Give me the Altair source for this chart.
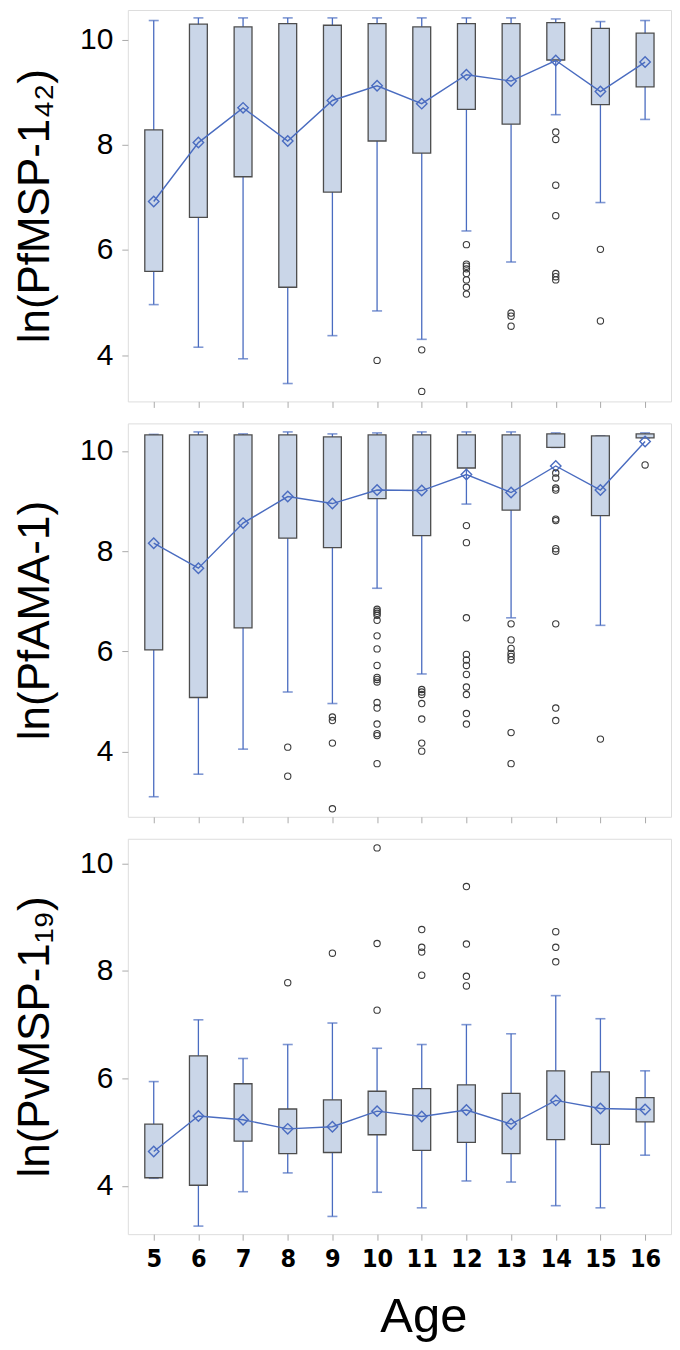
import altair as alt
import pandas as pd

ages = [5, 6, 7, 8, 9, 10, 11, 12, 13, 14, 15, 16]

# Panel 1: ln(PfMSP-1 42)
p1_low = [4.96, 4.15, 3.93, 3.46, 4.37, 4.84, 4.30, 6.36, 5.77, 8.57, 6.90, 8.48]
p1_q1 = [5.59, 6.62, 7.39, 5.29, 7.10, 8.07, 7.84, 8.67, 8.39, 9.61, 8.76, 9.10]
p1_q3 = [8.28, 10.29, 10.24, 10.30, 10.27, 10.30, 10.24, 10.30, 10.30, 10.32, 10.21, 10.12]
p1_high = [10.36, 10.41, 10.41, 10.41, 10.41, 10.41, 10.41, 10.41, 10.41, 10.39, 10.34, 10.36]
p1_mean = [6.92, 8.04, 8.70, 8.07, 8.84, 9.12, 8.78, 9.33, 9.21, 9.60, 9.01, 9.57]
p1_out_age = [10, 11, 11, 12, 12, 12, 12, 12, 12, 12, 12, 13, 13, 13,
              14, 14, 14, 14, 14, 14, 14, 15, 15]
p1_out_val = [3.90, 4.10, 3.31, 6.10, 5.73, 5.69, 5.64, 5.55, 5.43, 5.29, 5.16, 4.80, 4.74, 4.55,
              8.24, 8.10, 7.23, 6.65, 5.55, 5.49, 5.43, 6.01, 4.65]

# Panel 2: ln(PfAMA-1)
p2_low = [3.10, 3.55, 4.05, 5.19, 4.96, 7.26, 5.55, 8.94, 6.67, 10.07, 6.52, 10.26]
p2_q1 = [6.03, 5.08, 6.47, 8.26, 8.07, 9.05, 8.31, 9.66, 8.82, 10.07, 8.71, 10.26]
p2_q3 = [10.32, 10.32, 10.32, 10.32, 10.28, 10.32, 10.32, 10.32, 10.32, 10.34, 10.30, 10.34]
p2_high = [10.33, 10.38, 10.34, 10.38, 10.34, 10.36, 10.38, 10.38, 10.38, 10.36, 10.30, 10.36]
p2_mean = [8.16, 7.66, 8.56, 9.09, 8.95, 9.22, 9.21, 9.53, 9.17, 9.70, 9.22, 10.19]
p2_out_age = [8, 8, 9, 9, 9, 9,
              10, 10, 10, 10, 10, 10, 10, 10, 10, 10, 10, 10, 10, 10, 10, 10, 10,
              11, 11, 11, 11, 11, 11, 11,
              12, 12, 12, 12, 12, 12, 12, 12, 12, 12, 12,
              13, 13, 13, 13, 13, 13, 13, 13,
              14, 14, 14, 14, 14, 14, 14, 14, 14, 14, 14,
              15, 16]
p2_out_val = [4.09, 3.51, 4.69, 4.62, 4.17, 2.86,
              6.84, 6.80, 6.76, 6.72, 6.62, 6.31, 6.05, 5.72, 5.48, 5.44, 5.39, 4.98, 4.87, 4.55, 4.36, 4.32, 3.76,
              5.24, 5.19, 5.14, 4.96, 4.65, 4.17, 4.01,
              8.51, 8.17, 6.67, 5.94, 5.83, 5.72, 5.54, 5.29, 5.14, 4.76, 4.55,
              6.55, 6.23, 6.06, 5.96, 5.90, 5.83, 4.38, 3.76,
              9.56, 9.46, 9.26, 9.22, 8.64, 8.61, 8.05, 8.00, 6.55, 4.87, 4.62,
              4.25, 9.72]

# Panel 3: ln(PvMSP-1 19)
p3_low = [4.14, 3.25, 3.89, 4.24, 3.43, 3.88, 3.59, 4.09, 4.07, 3.63, 3.59, 4.57]
p3_q1 = [4.15, 4.01, 4.83, 4.60, 4.62, 4.95, 4.66, 4.81, 4.60, 4.86, 4.77, 5.19]
p3_q3 = [5.15, 6.42, 5.90, 5.43, 5.60, 5.76, 5.81, 5.88, 5.72, 6.14, 6.12, 5.64]
p3_high = [5.94, 7.09, 6.37, 6.63, 7.03, 6.56, 6.63, 7.00, 6.83, 7.54, 7.11, 6.14]
p3_mean = [4.64, 5.30, 5.23, 5.06, 5.10, 5.39, 5.29, 5.41, 5.15, 5.59, 5.44, 5.42]
p3_out_age = [8, 9, 10, 10, 10, 11, 11, 11, 11, 12, 12, 12, 12, 14, 14, 14]
p3_out_val = [7.78, 8.33, 10.29, 8.51, 7.27, 8.77, 8.44, 8.35, 7.92, 9.57, 8.50, 7.90, 7.72, 8.73, 8.44, 8.17]

titles = ["ln(PfMSP-1₄₂)", "ln(PfAMA-1)", "ln(PvMSP-1₁₉)"]
y_domains = [[3.12, 10.56], [2.70, 10.55], [3.10, 10.46]]
heights = [392, 394, 396]

BLUE = "#4a6cc0"
FILL = "#cad6e8"
EDGE = "#4d4d4d"
FONT = "Liberation Sans"
NARROW = "Liberation Sans Narrow, DejaVu Sans Condensed, Liberation Sans, sans-serif"
W = 544


def panel(low, q1, q3, high, mean, oa, ov, title, ydom, h, last):
    df = pd.DataFrame(dict(age=ages, low=low, q1=q1, q3=q3, high=high, mean=mean))
    dfo = pd.DataFrame(dict(age=oa, val=ov))
    if last:
        xaxis = alt.Axis(values=ages, title="Age", labelFont=NARROW,
                         labelFontWeight="bold", labelFontSize=25, labelColor="black",
                         labelPadding=6, tickSize=6, tickColor="#aaaaaa", domain=False, grid=False,
                         titleFont=FONT, titleFontSize=49, titleFontWeight="normal",
                         titleColor="black", titleX=296, titleY=97, titleBaseline="alphabetic")
    else:
        xaxis = alt.Axis(values=ages, title=None, labels=False, tickSize=6,
                         tickColor="#aaaaaa", domain=False, grid=False)
    xs = alt.Scale(domain=[4.42, 16.58], nice=False, zero=False)
    ys = alt.Scale(domain=ydom, nice=False, zero=False)
    yaxis = alt.Axis(values=[4, 6, 8, 10], title=title, labelFont=FONT, labelFontSize=30,
                     labelColor="black", labelPadding=9, tickSize=6, tickColor="#aaaaaa",
                     domain=False, grid=False, titleFont=FONT, titleFontSize=44,
                     titleFontWeight="normal", titleColor="black", titleX=-79,
                     titleBaseline="alphabetic", titleAngle=270, titleAlign="center",
                     titleY=h / 2)
    x = alt.X("age:Q", scale=xs, axis=xaxis)
    base = alt.Chart(df)
    whisk = base.mark_rule(color=BLUE, strokeWidth=1.3).encode(
        x=x, y=alt.Y("low:Q", scale=ys, axis=yaxis), y2="high:Q")
    cap_lo = base.mark_tick(orient="horizontal", size=10, thickness=1.6, color=BLUE).encode(
        x="age:Q", y="low:Q")
    cap_hi = base.mark_tick(orient="horizontal", size=10, thickness=1.6, color=BLUE).encode(
        x="age:Q", y="high:Q")
    box = base.transform_calculate(a0="datum.age - 0.2", a1="datum.age + 0.2").mark_rect(
        fill=FILL, stroke=EDGE, strokeWidth=1.3).encode(
        x="a0:Q", x2="a1:Q", y="q1:Q", y2="q3:Q")
    line = base.mark_line(color=BLUE, strokeWidth=1.4).encode(x="age:Q", y="mean:Q")
    mpts = base.mark_point(shape="diamond", size=110, filled=False, color=BLUE,
                           strokeWidth=1.4, opacity=1).encode(x="age:Q", y="mean:Q")
    outl = alt.Chart(dfo).mark_point(shape="circle", size=40, filled=False, color="#3a3a3a",
                                     strokeWidth=1.1, opacity=1).encode(x="age:Q", y="val:Q")
    return alt.layer(whisk, cap_lo, cap_hi, box, line, mpts, outl).properties(width=W, height=h)


p1 = panel(p1_low, p1_q1, p1_q3, p1_high, p1_mean, p1_out_age, p1_out_val, titles[0], y_domains[0], heights[0], False)
p2 = panel(p2_low, p2_q1, p2_q3, p2_high, p2_mean, p2_out_age, p2_out_val, titles[1], y_domains[1], heights[1], False)
p3 = panel(p3_low, p3_q1, p3_q3, p3_high, p3_mean, p3_out_age, p3_out_val, titles[2], y_domains[2], heights[2], True)

chart = alt.vconcat(p1, p2, p3, spacing=14).properties(
    padding={"left": 5, "top": 0, "right": 0, "bottom": 0}
).configure_view(stroke="#c4c4c4", strokeWidth=1.5).configure(background="white")

chart.save("out.html", embed_options={"renderer": "svg", "actions": False})
